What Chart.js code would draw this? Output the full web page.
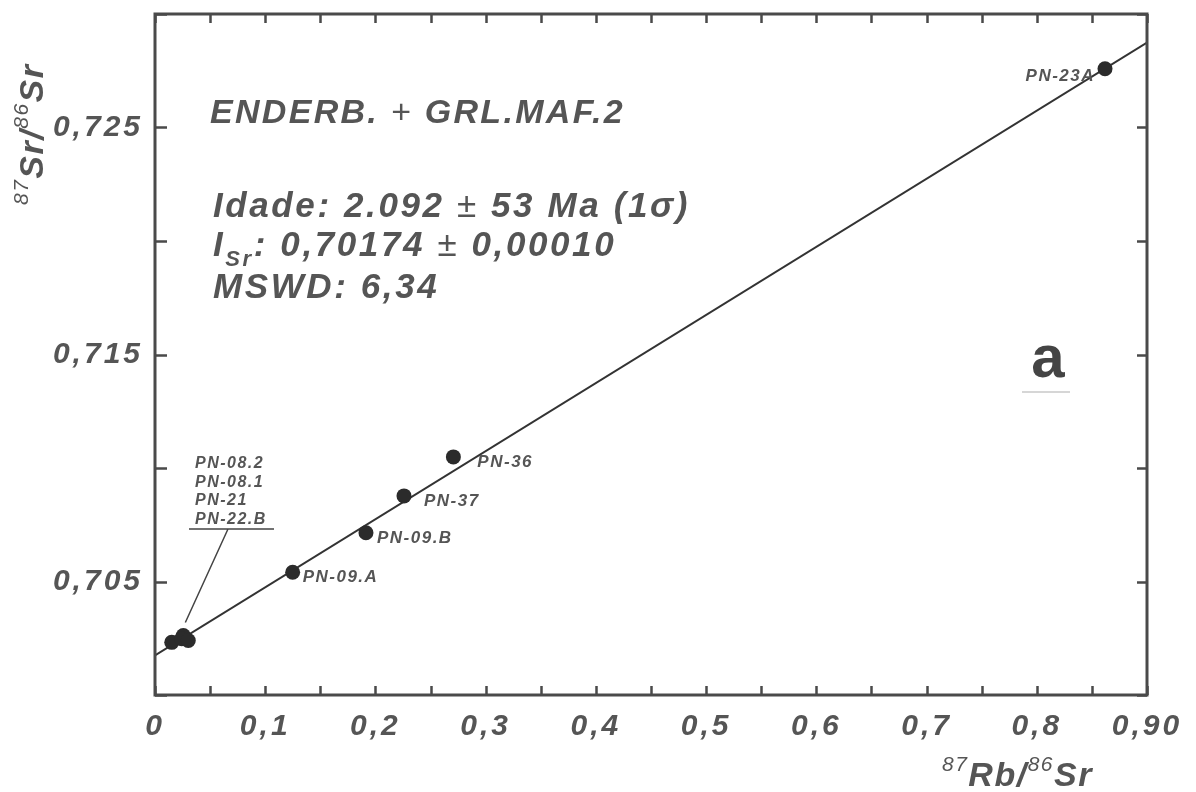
<!DOCTYPE html>
<html>
<head>
<meta charset="utf-8">
<script src="https://cdn.jsdelivr.net/npm/chart.js@4.4.1/dist/chart.umd.min.js"></script>
<style>
  html, body { margin: 0; padding: 0; background: #fff; }
  #wrap { width: 1196px; height: 792px; }
</style>
</head>
<body>
<div id="wrap"><canvas id="isochron" width="1196" height="792"></canvas></div>
<script>
// Rb-Sr whole-rock isochron, enderbites + mafic granulites
const sampleNames = ['PN-08.2', 'PN-08.1', 'PN-21', 'PN-22.B', 'PN-09.A', 'PN-09.B', 'PN-37', 'PN-36', 'PN-23A'];
const rbSr = [0.0152, 0.0257, 0.0242, 0.0302, 0.1249, 0.1914, 0.2259, 0.2707, 0.8619];
const srSr = [0.70232, 0.70262, 0.70248, 0.70240, 0.70541, 0.70715, 0.70877, 0.71049, 0.72759];

// fitted isochron end points
const isochronX = [0, 0.90];
const isochronY = [0.70174, 0.72874];

const xTicks = [0, 0.1, 0.2, 0.3, 0.4, 0.5, 0.6, 0.7, 0.8, 0.9];
const xTickLabels = ['0', '0,1', '0,2', '0,3', '0,4', '0,5', '0,6', '0,7', '0,8', '0,90'];
const yTicks = [0.705, 0.715, 0.725];
const yTickLabels = ['0,705', '0,715', '0,725'];

const INK = '#555555';
const FRAME = '#4a4a4a';
const FONT = '"Liberation Sans", Arial, sans-serif';

const labelFor = (ticks, labels) => v => {
  const i = ticks.findIndex(t => Math.abs(t - v) < 1e-7);
  return i < 0 ? '' : labels[i];
};

// draw a row of text pieces with different fonts
function drawRuns(ctx, x, y, runs) {
  for (const r of runs) {
    ctx.font = r.font;
    ctx.fillText(r.text, x, y + (r.dy || 0));
    x += ctx.measureText(r.text).width;
  }
  return x;
}

const bi = s => `italic bold ${s}px ${FONT}`;
const ni = s => `italic ${s}px ${FONT}`;

// where each named sample puts its label, relative to its dot
const labelPlacement = {
  'PN-09.A': { dx: 10, dy: 10, align: 'left' },
  'PN-09.B': { dx: 11, dy: 10, align: 'left' },
  'PN-37': { dx: 20, dy: 10, align: 'left' },
  'PN-36': { dx: 24, dy: 10, align: 'left' },
  'PN-23A': { dx: -10, dy: 12, align: 'right' }
};
const clusterNames = ['PN-08.2', 'PN-08.1', 'PN-21', 'PN-22.B'];

const textSpacing = {
  id: 'textSpacing',
  beforeDraw(chart) { chart.ctx.letterSpacing = '3px'; },
  beforeDatasetsDraw(chart) { chart.ctx.letterSpacing = '0px'; }
};

const frameAndTicks = {
  id: 'frameAndTicks',
  afterDatasetsDraw(chart) {
    const { ctx, chartArea: a, scales: { x, y } } = chart;
    ctx.save();
    ctx.strokeStyle = FRAME;
    ctx.lineWidth = 2.5;
    ctx.beginPath();
    for (let v = 0; v <= 0.9 + 1e-9; v += 0.05) {
      const px = Math.round(x.getPixelForValue(v)) + 0.5;
      ctx.moveTo(px, a.bottom); ctx.lineTo(px, a.bottom - 9);
      ctx.moveTo(px, a.top); ctx.lineTo(px, a.top + 9);
    }
    for (let v = 0.700; v <= 0.730 + 1e-9; v += 0.005) {
      const py = Math.round(y.getPixelForValue(v)) + 0.5;
      ctx.moveTo(a.left, py); ctx.lineTo(a.left + 12, py);
      ctx.moveTo(a.right, py); ctx.lineTo(a.right - 10, py);
    }
    ctx.stroke();
    ctx.lineWidth = 3;
    ctx.strokeRect(a.left, a.top, a.right - a.left, a.bottom - a.top);
    ctx.restore();
  }
};

const annotations = {
  id: 'annotations',
  afterDraw(chart) {
    const { ctx, scales: { x, y } } = chart;
    ctx.save();
    ctx.fillStyle = INK;
    ctx.textBaseline = 'alphabetic';

    // sample labels
    ctx.letterSpacing = '1.5px';
    ctx.font = bi(17);
    sampleNames.forEach((name, i) => {
      const p = labelPlacement[name];
      if (!p) return;
      ctx.textAlign = p.align;
      ctx.fillText(name, x.getPixelForValue(rbSr[i]) + p.dx, y.getPixelForValue(srSr[i]) + p.dy);
    });

    // stacked list for the clustered samples near the origin
    ctx.textAlign = 'left';
    ctx.font = bi(16);
    clusterNames.forEach((name, i) => ctx.fillText(name, 195, 468 + i * 18.5));
    const ci = sampleNames.indexOf('PN-08.1');
    ctx.strokeStyle = '#444';
    ctx.lineWidth = 1.5;
    ctx.beginPath();
    ctx.moveTo(189, 529); ctx.lineTo(274, 529);
    ctx.moveTo(228, 529);
    ctx.lineTo(x.getPixelForValue(rbSr[ci]) + 2, y.getPixelForValue(srSr[ci]) - 13);
    ctx.stroke();

    // age block
    ctx.letterSpacing = '2.3px';
    drawRuns(ctx, 210, 123, [
      { text: 'ENDERB. ', font: bi(34) },
      { text: '+', font: ni(34) },
      { text: ' GRL.MAF.2', font: bi(34) }
    ]);
    ctx.letterSpacing = '2.6px';
    drawRuns(ctx, 213, 217, [
      { text: 'Idade: 2.092 ', font: bi(35) },
      { text: '±', font: ni(35) },
      { text: ' 53 Ma (1σ)', font: bi(35) }
    ]);
    drawRuns(ctx, 213, 256, [
      { text: 'I', font: bi(35) },
      { text: 'Sr', font: bi(22), dy: 10 },
      { text: ': 0,70174 ', font: bi(35) },
      { text: '±', font: ni(35) },
      { text: ' 0,00010', font: bi(35) }
    ]);
    drawRuns(ctx, 213, 298, [{ text: 'MSWD: 6,34', font: bi(35) }]);

    // panel letter
    ctx.letterSpacing = '0px';
    ctx.textAlign = 'center';
    ctx.font = `bold 60px ${FONT}`;
    ctx.fillStyle = '#444';
    ctx.fillText('a', 1048, 377);
    ctx.textAlign = 'left';
    ctx.strokeStyle = '#c8c8c8';
    ctx.lineWidth = 1.5;
    ctx.beginPath();
    ctx.moveTo(1022, 392); ctx.lineTo(1070, 392);
    ctx.stroke();

    // axis titles
    ctx.fillStyle = INK;
    ctx.letterSpacing = '1.5px';
    const titleRuns = first => [
      { text: '87', font: ni(21), dy: -15 },
      { text: first + '/', font: bi(34) },
      { text: '86', font: ni(21), dy: -15 },
      { text: 'Sr', font: bi(34) }
    ];
    drawRuns(ctx, 942, 786, titleRuns('Rb'));
    ctx.translate(43, 205);
    ctx.rotate(-Math.PI / 2);
    drawRuns(ctx, 0, 0, titleRuns('Sr'));
    ctx.restore();
  }
};

const samplePoints = rbSr.map((v, i) => ({ x: v, y: srSr[i] }));
const isochronPoints = isochronX.map((v, i) => ({ x: v, y: isochronY[i] }));

new Chart(document.getElementById('isochron'), {
  type: 'scatter',
  data: {
    datasets: [
      {
        data: samplePoints,
        backgroundColor: '#2b2b2b',
        borderWidth: 0,
        pointRadius: 7.5,
        order: 1
      },
      {
        type: 'line',
        data: isochronPoints,
        borderColor: '#333',
        borderWidth: 2,
        pointRadius: 0,
        fill: false,
        order: 2
      }
    ]
  },
  options: {
    responsive: false,
    animation: false,
    devicePixelRatio: 1,
    layout: { padding: { left: 0, right: 49, top: 14, bottom: 0 } },
    plugins: { legend: { display: false }, tooltip: { enabled: false } },
    scales: {
      x: {
        type: 'linear',
        min: 0,
        max: 0.9,
        grid: { display: false, drawTicks: false },
        border: { display: false },
        afterFit: s => { s.height = 97; s.paddingLeft = 0; s.paddingRight = 0; },
        ticks: {
          stepSize: 0.05,
          autoSkip: false,
          maxRotation: 0,
          padding: 14,
          color: INK,
          font: { family: FONT, size: 30, weight: 'bold', style: 'italic' },
          callback: labelFor(xTicks, xTickLabels)
        }
      },
      y: {
        min: 0.700,
        max: 0.730,
        grid: { display: false, drawTicks: false },
        border: { display: false },
        afterFit: s => { s.width = 155; s.paddingTop = 0; s.paddingBottom = 0; },
        ticks: {
          stepSize: 0.005,
          autoSkip: false,
          padding: 12,
          color: INK,
          font: { family: FONT, size: 30, weight: 'bold', style: 'italic' },
          callback: labelFor(yTicks, yTickLabels)
        }
      }
    }
  },
  plugins: [textSpacing, frameAndTicks, annotations]
});
</script>
</body>
</html>
